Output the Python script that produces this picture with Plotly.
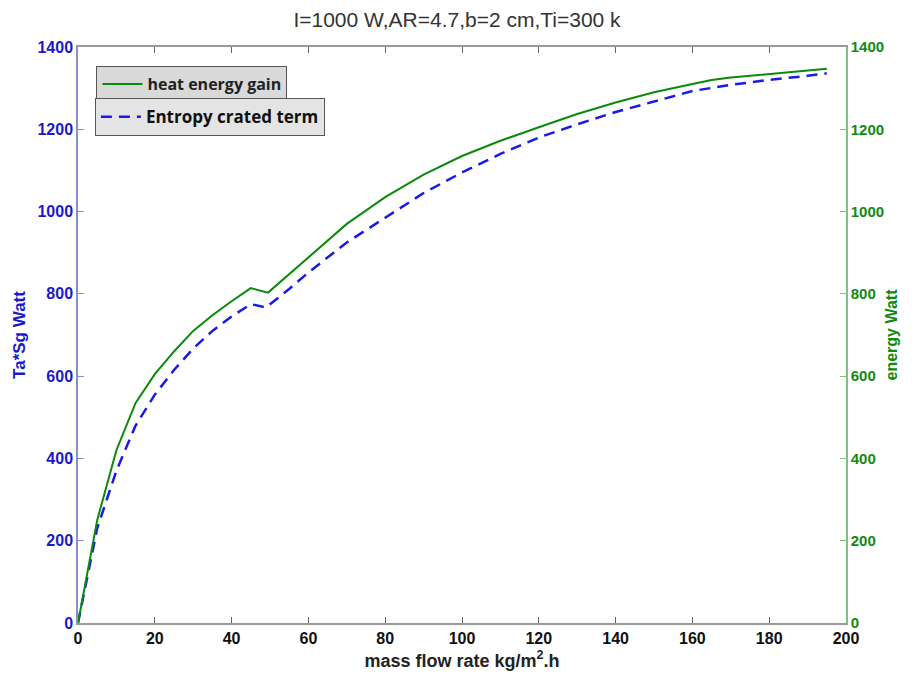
import plotly.graph_objects as go

# Data
gain_x = [0, 5, 10, 15, 20, 25, 30, 35, 40, 45, 49.5, 55, 60, 70, 80, 90, 100, 110, 120, 130, 140, 150, 160, 165, 170, 180, 190, 195]
gain_y = [0, 250, 420, 535, 605, 660, 710, 748, 782, 814, 803, 848, 889, 970, 1035, 1090, 1135, 1172, 1205, 1237, 1265, 1290, 1310, 1320, 1326, 1335, 1343, 1347]

entropy_x = [0, 5, 10, 15, 20, 25, 30, 35, 40, 45, 49, 55, 60, 70, 80, 90, 100, 110, 120, 130, 140, 150, 160, 170, 180, 190, 195]
entropy_y = [0, 230, 370, 480, 555, 615, 667, 710, 745, 775, 767, 812, 852, 925, 985, 1045, 1095, 1140, 1180, 1212, 1242, 1268, 1293, 1308, 1320, 1330, 1336]

x_ticks = [0, 20, 40, 60, 80, 100, 120, 140, 160, 180, 200]
y_ticks = [0, 200, 400, 600, 800, 1000, 1200, 1400]

title_text = "I=1000 W,AR=4.7,b=2 cm,Ti=300 k"
FONT = "Liberation Sans, Arial, sans-serif"
LEGFONT = "Open Sans, sans-serif"

W, H = 898, 667  # page body has an 8px margin

fig = go.Figure()
fig.add_trace(go.Scatter(
    x=gain_x, y=gain_y, mode="lines", name="heat energy gain",
    line=dict(color="#0a8a0a", width=2), yaxis="y2", legend="legend", showlegend=True,
))
fig.add_trace(go.Scatter(
    x=entropy_x, y=entropy_y, mode="lines", name="Entropy crated term",
    line=dict(color="#1a1ae6", width=2.5, dash="11px,7px"), yaxis="y", legend="legend2", showlegend=True,
))

fig.update_layout(
    width=W, height=H,
    paper_bgcolor="white", plot_bgcolor="white",
    margin=dict(l=70, r=60, t=39, b=52),
    showlegend=True,
    font=dict(family=FONT, size=14, color="#222"),
    title=dict(text=title_text, x=0.5, xanchor="center", y=1 - 12 / H, yanchor="middle",
               font=dict(family=FONT, size=21, color="#333")),
    xaxis=dict(
        range=[0, 200], tickvals=x_ticks, ticks="inside", ticklen=6, tickcolor="#666",
        showline=True, linecolor="#999", linewidth=1.5, mirror="ticks",
        showgrid=False, zeroline=False, automargin=False,
        tickfont=dict(family=FONT, size=16, color="#111", weight="bold"),
        title=dict(text="<b>mass flow rate kg/m<sup>2</sup>.h</b>", standoff=8,
                   font=dict(family=FONT, size=18, color="#222")),
    ),
    yaxis=dict(
        range=[0, 1400], tickvals=y_ticks, ticks="inside", ticklen=6, tickcolor="#8c8cd0",
        showline=True, linecolor="#8c8cd0", linewidth=1.5,
        showgrid=False, zeroline=False, automargin=False,
        tickfont=dict(family=FONT, size=16, color="#1a1acc", weight="bold"),
        title=dict(text="<b>Ta*Sg Watt</b>", standoff=8,
                   font=dict(family=FONT, size=17, color="#1a1acc")),
    ),
    yaxis2=dict(
        range=[0, 1400], tickvals=y_ticks, ticks="inside", ticklen=6, tickcolor="#80c080",
        showline=True, linecolor="#80c080", linewidth=1.5,
        overlaying="y", side="right", anchor="x",
        showgrid=False, zeroline=False, automargin=False,
        tickfont=dict(family=FONT, size=15, color="#128a12", weight="bold"),
        title=dict(text="<b>energy Watt</b>", standoff=3,
                   font=dict(family=FONT, size=16, color="#128a12")),
    ),
    legend=dict(
        x=0.024, y=0.967, xanchor="left", yanchor="top",
        bgcolor="#d9d9d9", bordercolor="#555", borderwidth=1,
        font=dict(family=LEGFONT, size=16, color="#222", weight="bold"),
        itemwidth=40,
    ),
    legend2=dict(
        x=0.022, y=0.911, xanchor="left", yanchor="top",
        bgcolor="#e4e4e4", bordercolor="#555", borderwidth=1,
        font=dict(family=LEGFONT, size=17, color="#111", weight="bold"),
        itemwidth=40,
    ),
)

fig.write_html("out.html")
